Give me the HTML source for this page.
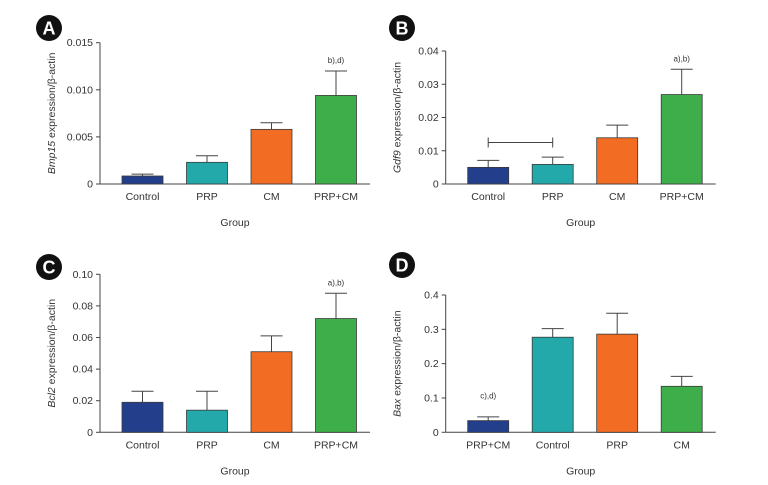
<!DOCTYPE html>
<html><head><meta charset="utf-8"><style>
html,body{margin:0;padding:0;background:#fff;}
svg{display:block;font-family:"Liberation Sans",Arial,sans-serif;}
</style></head><body>
<svg id="fig" width="768" height="485" viewBox="0 0 768 485"></svg>
<script>
const colors=["#233f8c","#24a9ab","#f26c23","#3dae4a"];
const catsA=["Control","PRP","CM","PRP+CM"];
const valsA=[0.00085,0.0023,0.0058,0.0094];
const errA=[0.00105,0.003,0.0065,0.012];
const ticksA=["0","0.005","0.010","0.015"];
const tickValsA=[0,0.005,0.010,0.015];
const catsB=["Control","PRP","CM","PRP+CM"];
const valsB=[0.005,0.0059,0.0139,0.0269];
const errB=[0.0071,0.0081,0.0177,0.0345];
const ticksB=["0","0.01","0.02","0.03","0.04"];
const tickValsB=[0,0.01,0.02,0.03,0.04];
const catsC=["Control","PRP","CM","PRP+CM"];
const valsC=[0.019,0.014,0.051,0.072];
const errC=[0.026,0.026,0.061,0.088];
const ticksC=["0","0.02","0.04","0.06","0.08","0.10"];
const tickValsC=[0,0.02,0.04,0.06,0.08,0.10];
const catsD=["PRP+CM","Control","PRP","CM"];
const valsD=[0.034,0.277,0.286,0.134];
const errD=[0.045,0.302,0.347,0.163];
const ticksD=["0","0.1","0.2","0.3","0.4"];
const tickValsD=[0,0.1,0.2,0.3,0.4];

const NS="http://www.w3.org/2000/svg";
const svg=document.getElementById('fig');
function mk(tag,attrs,parent,text){const e=document.createElementNS(NS,tag);for(const k in attrs)e.setAttribute(k,attrs[k]);if(text!==undefined)e.textContent=text;parent.appendChild(e);return e;}

function panel(o){
  const g=mk('g',{},svg);
  
  
  const y=v=>o.y0-(v/o.max)*(o.y0-o.yTop);
  const bx=i=>o.x0+22+i*64.5;
  // badge
  const c=mk('circle',{cx:o.bx,cy:o.by,r:13,fill:'#111'},g);
  
  
  const bt=mk('text',{x:o.bx,y:o.by+6.5,'text-anchor':'middle','font-size':18,'font-weight':'bold',fill:'#fff'},g,o.letter);
  
  
  // axes
  const ya=mk('line',{x1:o.x0,y1:o.yTop,x2:o.x0,y2:o.y0,stroke:'#444','stroke-width':1},g);
  
  
  const xa=mk('line',{x1:o.x0,y1:o.y0,x2:o.x0+270,y2:o.y0,stroke:'#444','stroke-width':1},g);
  
  
  o.tickVals.forEach((tv,i)=>{
    const ty=y(tv);
    const tl=mk('line',{x1:o.x0-4,y1:ty,x2:o.x0,y2:ty,stroke:'#444'},g);
    
    
    const tt=mk('text',{x:o.x0-7,y:ty+3.5,'text-anchor':'end','font-size':10.5,fill:'#333'},g,o.ticks[i]);
    
    
  });
  o.vals.forEach((v,i)=>{
    const x=bx(i),w=41,cx=x+w/2;
    const el=mk('line',{x1:cx,y1:y(o.err[i]),x2:cx,y2:y(v),stroke:'#444'},g);
    
    
    const ec=mk('line',{x1:cx-11,y1:y(o.err[i]),x2:cx+11,y2:y(o.err[i]),stroke:'#444'},g);
    
    
    const r=mk('rect',{x:x,y:y(v),width:w,height:o.y0-y(v),fill:colors[i],stroke:'#3a3a3a','stroke-width':0.8},g);
    
    
    const xl=mk('text',{x:cx,y:o.y0+16,'text-anchor':'middle','font-size':10.5,fill:'#333'},g,o.cats[i]);
    
    
  });
  const gl=mk('text',{x:o.x0+135,y:o.y0+42,'text-anchor':'middle','font-size':10.5,fill:'#333'},g,'Group');
  
  
  const yt=mk('text',{x:0,y:0,'text-anchor':'middle','font-size':10.5,fill:'#333',transform:`translate(${o.x0-45},${(o.y0+o.yTop)/2}) rotate(-90)`},g);
  
  
  mk('tspan',{'font-style':'italic'},yt,o.gene);
  mk('tspan',{},yt,' expression/β-actin');
  if(o.ann){
    const i=o.ann.i;
    const at=mk('text',{x:bx(i)+20.5,y:y(o.ann.base)-8,'text-anchor':'middle','font-size':8,fill:'#333'},g,o.ann.t);
    
    
  }
  return {g,y,bx};
}
panel({letter:'A',bx:49,by:28,x0:100,y0:184,yTop:42.7,max:0.015,cats:catsA,vals:valsA,err:errA,ticks:ticksA,tickVals:tickValsA,gene:'Bmp15',ann:{i:3,t:'b),d)',base:0.012}});
const pB=panel({letter:'B',bx:402,by:28,x0:445.7,y0:184,yTop:51,max:0.04,cats:catsB,vals:valsB,err:errB,ticks:ticksB,tickVals:tickValsB,gene:'Gdf9',ann:{i:3,t:'a),b)',base:0.0345}});
// bracket in B
const bk=mk('path',{d:`M${pB.bx(0)+20.5},${pB.y(0.0125)-5}V${pB.y(0.0125)+5}M${pB.bx(0)+20.5},${pB.y(0.0125)}H${pB.bx(1)+20.5}M${pB.bx(1)+20.5},${pB.y(0.0125)-5}V${pB.y(0.0125)+5}`,stroke:'#444',fill:'none'},pB.g);


panel({letter:'C',bx:49,by:267,x0:100,y0:432.3,yTop:274.3,max:0.10,cats:catsC,vals:valsC,err:errC,ticks:ticksC,tickVals:tickValsC,gene:'Bcl2',ann:{i:3,t:'a),b)',base:0.088}});
panel({letter:'D',bx:402,by:265,x0:445.7,y0:432.3,yTop:295,max:0.4,cats:catsD,vals:valsD,err:errD,ticks:ticksD,tickVals:tickValsD,gene:'Bax',ann:{i:0,t:'c),d)',base:0.075}});
</script>
</body></html>
